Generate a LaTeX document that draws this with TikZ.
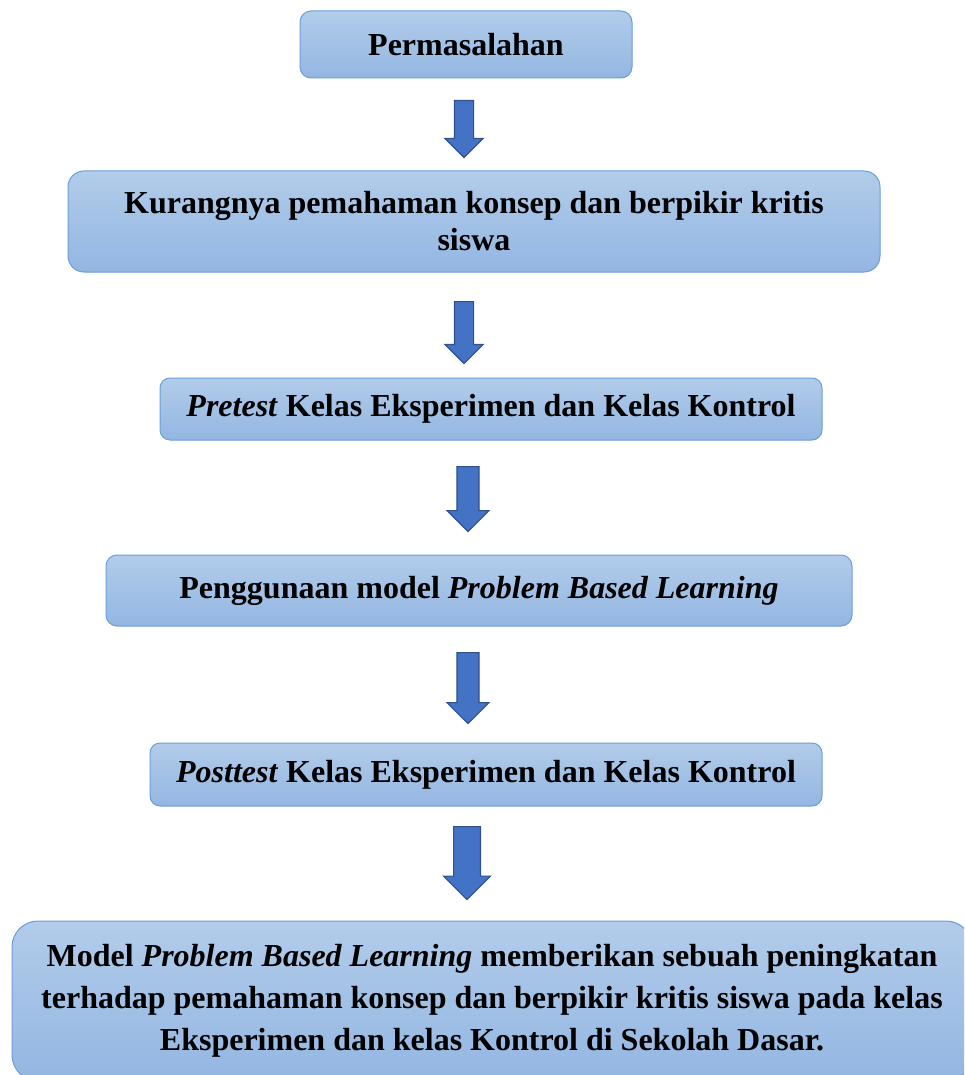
\documentclass[tikz,border=0pt]{standalone}
\usepackage{fontspec}
\setmainfont{Liberation Serif}
\usetikzlibrary{shapes.arrows}

\definecolor{boxTop}{HTML}{B2CCEA}
\definecolor{boxBottom}{HTML}{93B6E2}
\definecolor{boxLine}{HTML}{6A9ED8}
\definecolor{arrowFill}{HTML}{4472C4}
\definecolor{arrowLine}{HTML}{2F528F}

\begin{document}
\begin{tikzpicture}[%
    x=1pt, y=-1pt,
    stepbox/.style={%
        draw=boxLine,
        line width=1pt,
        top color=boxTop,
        bottom color=boxBottom,
        align=center,
        inner sep=0pt,
        font=\fontsize{32}{37}\selectfont\bfseries
    },
    flowarrow/.style={%
        single arrow,
        draw=arrowLine,
        fill=arrowFill,
        line width=1.2pt,
        inner xsep=0pt,
        inner ysep=9pt,
        single arrow head extend=9.5pt,
        rotate=-90,
        anchor=tail
    }
]
\useasboundingbox (0,0) rectangle (964,1075);
\clip (0,0) rectangle (964,1075);

% Problem
    \node[stepbox, minimum width=332pt, minimum height=67pt, rounded corners=11pt] (problem) at (466,44.5) {Permasalahan};

% Cause
    \node[stepbox, minimum width=812pt, minimum height=101pt, rounded corners=16pt] (cause) at (474,221.5)
        {Kurangnya pemahaman konsep dan berpikir kritis\\siswa};

% Pretest
    \node[stepbox, minimum width=662pt, minimum height=62pt, rounded corners=10pt] (pretest) at (491,409)
        {\textit{Pretest} Kelas Eksperimen dan Kelas Kontrol};

% Treatment
    \node[stepbox, minimum width=746pt, minimum height=71pt, rounded corners=11pt] (treatment) at (479,590.5)
        {Penggunaan model \textit{Problem Based Learning}};

% Posttest
    \node[stepbox, minimum width=672pt, minimum height=63pt, rounded corners=10pt] (posttest) at (486,774.5)
        {\textit{Posttest} Kelas Eksperimen dan Kelas Kontrol};

% Result
    \node[stepbox, minimum width=960pt, minimum height=160pt, rounded corners=26pt,
          font=\fontsize{32}{42}\selectfont\bfseries] (result) at (492,1001)
        {Model \textit{Problem Based Learning} memberikan sebuah peningkatan\\
         terhadap pemahaman konsep dan berpikir kritis siswa pada kelas\\
         Eksperimen dan kelas Kontrol di Sekolah Dasar.};

% Arrows
    \node[flowarrow, minimum height=57pt, minimum width=37pt] (arrow1) at (464,100) {};
    \node[flowarrow, minimum height=62pt, minimum width=37pt] (arrow2) at (464,301) {};
    \node[flowarrow, minimum height=65pt, minimum width=42pt, inner ysep=10pt] (arrow3) at (468,466) {};
    \node[flowarrow, minimum height=71pt, minimum width=42pt, inner ysep=10pt] (arrow4) at (468,652) {};
    \node[flowarrow, minimum height=73pt, minimum width=47pt, inner ysep=12pt] (arrow5) at (467,826) {};

\end{tikzpicture}
\end{document}
